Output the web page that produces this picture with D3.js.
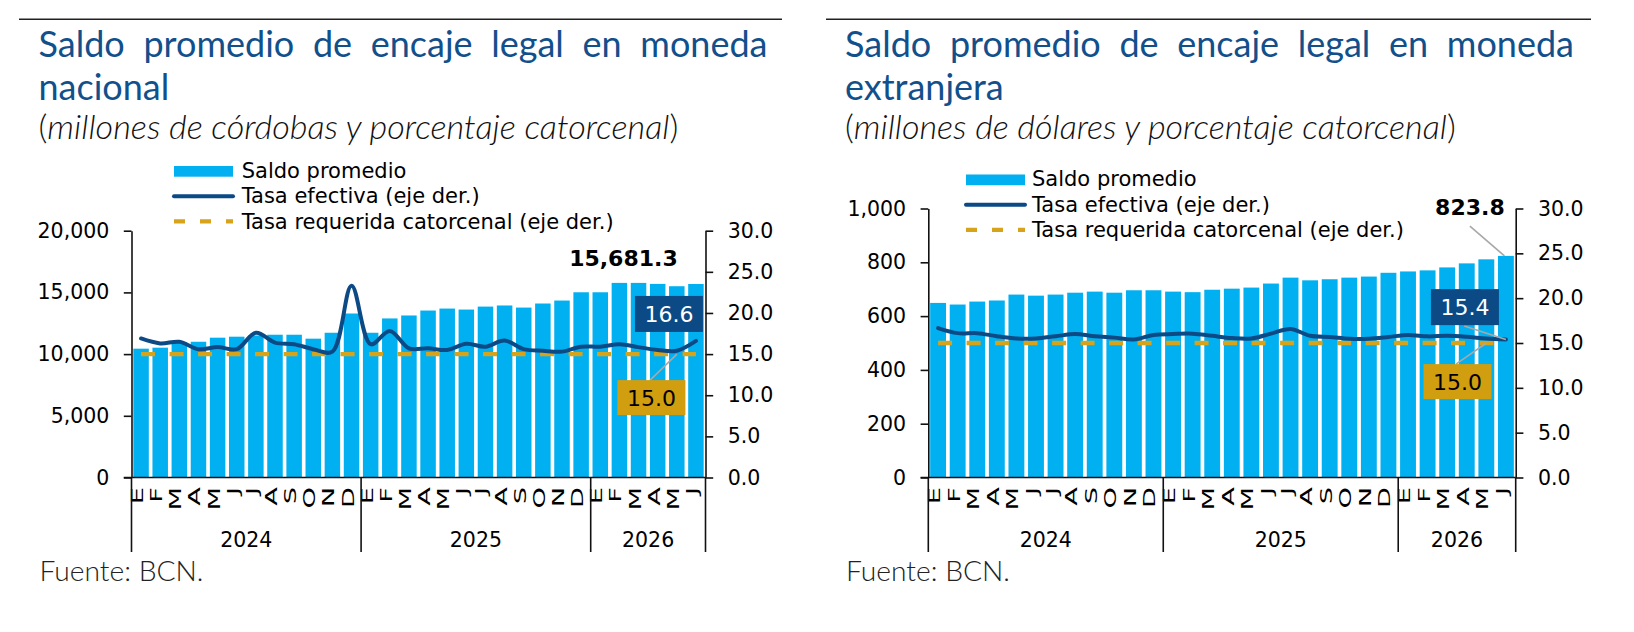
<!DOCTYPE html>
<html><head><meta charset="utf-8">
<script src="https://cdn.jsdelivr.net/npm/d3@7"></script>
<style>body{margin:0;background:#fff}svg{display:block}</style>
</head><body>
<svg id="c" width="1634" height="632"></svg>
<script>
// ---------- DATA ----------
const months = ["E","F","M","A","M","J","J","A","S","O","N","D",
                "E","F","M","A","M","J","J","A","S","O","N","D",
                "E","F","M","A","M","J"];
const yearLabels = ["2024","2025","2026"];
const yearCounts = [12,12,6];

const saldoMN = [10440,10520,10950,11000,11330,11410,11510,11570,11570,11250,11730,13290,
                 11730,12890,13130,13530,13690,13610,13850,13940,13770,14100,14340,15010,
                 15010,15770,15770,15690,15500,15681.3];
const tasaMN = [16.9,16.3,16.5,15.6,15.85,15.6,17.6,16.4,16.2,15.6,15.3,23.3,
                16.2,17.8,15.7,15.7,15.5,16.25,15.9,16.65,15.6,15.4,15.3,15.9,
                15.9,16.2,15.85,15.5,15.4,16.6];
const reqMN = [15,15,15,15,15,15,15,15,15,15,15,15,15,15,15,15,15,15,15,15,15,15,15,15,15,15,15,15,15,15];

const saldoME = [649,643,654,658,680,676,680,687,691,687,696,696,
                 691,689,698,702,706,721,743,733,737,743,747,761,
                 766,770,781,796,811,823.8];
const tasaME = [16.67,16.1,16.1,15.75,15.5,15.5,15.75,16.0,15.75,15.6,15.4,15.9,
                16.0,16.04,15.8,15.55,15.5,16.04,16.56,15.8,15.67,15.48,15.48,15.67,
                15.9,15.74,15.8,15.69,15.5,15.4];
const reqME = [15,15,15,15,15,15,15,15,15,15,15,15,15,15,15,15,15,15,15,15,15,15,15,15,15,15,15,15,15,15];

const ticksMN = [0,5000,10000,15000,20000];
const ticksME = [0,200,400,600,800,1000];
const ticksRate = [0,5,10,15,20,25,30];

const legendLabels = ["Saldo promedio","Tasa efectiva (eje der.)","Tasa requerida catorcenal (eje der.)"];

// ---------- STYLE ----------
const C_BAR = "#00B0F0", C_LINE = "#0C4A86", C_GOLD = "#D6A31A", C_GOLDBOX = "#D19E10",
      C_TITLE = "#12508C", C_GRAY = "#A8A8A8";
const F_CHART = "'DejaVu Sans', Verdana, sans-serif";
const F_TITLE = "Lato, 'Noto Sans', sans-serif";

const svg = d3.select("#c");

function justify(g, words, x0, width, y, size) {
  const nodes = words.map(w => g.append("text").attr("y", y).attr("font-family", F_TITLE)
      .attr("font-size", size).attr("fill", C_TITLE).text(w));
  const ws = nodes.map(n => n.node().getComputedTextLength());
  const gap = (width - d3.sum(ws)) / (words.length - 1);
  let x = x0;
  nodes.forEach((n, i) => { n.attr("x", x); x += ws[i] + gap; });
}

function fitWidth(t, base, width) {
  const w = t.node().getComputedTextLength();
  t.attr("font-size", base * width / w);
}

function subtitle(g, inner, x0, width, y) {
  const t = g.append("text").attr("x", x0).attr("y", y).attr("font-family", F_TITLE)
    .attr("font-size", 26).attr("font-weight", 300).attr("fill", "#111");
  t.append("tspan").text("(");
  t.append("tspan").attr("font-style", "italic").text(inner);
  t.append("tspan").text(")");
  fitWidth(t, 26, width);
}

function panel(cfg) {
  const g = svg.append("g");
  // top rule
  g.append("line").attr("x1", cfg.rule[0]).attr("x2", cfg.rule[1]).attr("y1", 19.3).attr("y2", 19.3)
    .attr("stroke", "#222").attr("stroke-width", 1.6);
  // titles
  justify(g, cfg.title1.split(" "), cfg.tx, 729, 57, 36);
  g.append("text").attr("x", cfg.tx).attr("y", 100).attr("font-family", F_TITLE).attr("font-size", 36)
    .attr("fill", C_TITLE).text(cfg.title2);
  subtitle(g, cfg.sub, cfg.tx, cfg.subW, 139);
  const f = g.append("text").attr("x", cfg.tx + 1).attr("y", 581).attr("font-family", F_TITLE).attr("font-size", 24)
    .attr("font-weight", 300).attr("fill", "#222").text("Fuente: BCN.");
  fitWidth(f, 24, 164);

  const x = d3.scaleBand().domain(d3.range(months.length)).range([cfg.L, cfg.R])
    .paddingInner(0.19).paddingOuter(0.095);
  const yL = d3.scaleLinear().domain(cfg.domL).range([477.5, cfg.top]);
  const yR = d3.scaleLinear().domain([0, 30]).range([477.5, cfg.top]);
  const cx = i => x(i) + x.bandwidth() / 2;

  // bars
  g.append("g").selectAll("rect").data(cfg.saldo).join("rect")
    .attr("x", (d, i) => x(i)).attr("width", x.bandwidth())
    .attr("y", d => yL(d)).attr("height", d => yL(0) - yL(d)).attr("fill", C_BAR);

  // required rate (dashed)
  g.append("path").datum(cfg.req)
    .attr("d", d3.line().x((d, i) => cx(i)).y(d => yR(d)))
    .attr("fill", "none").attr("stroke", C_GOLD).attr("stroke-width", 4.3)
    .attr("stroke-dasharray", "14,14.5");
  // effective rate
  g.append("path").datum(cfg.tasa)
    .attr("d", d3.line().x((d, i) => cx(i)).y(d => yR(d)).curve(d3.curveCatmullRom.alpha(0.5)))
    .attr("fill", "none").attr("stroke", C_LINE).attr("stroke-width", 4)
    .attr("stroke-linecap", "round");

  // axes
  const styleAxis = a => {
    a.selectAll("path.domain").attr("stroke", "#111").attr("stroke-width", 1.6);
    a.selectAll(".tick line").attr("stroke", "#111").attr("stroke-width", 1.6);
    a.selectAll(".tick text").attr("font-family", F_CHART).attr("font-size", 20.5).attr("fill", "#000");
  };
  g.append("g").attr("transform", `translate(${cfg.L},0)`)
    .call(d3.axisLeft(yL).tickValues(cfg.ticksL).tickFormat(d3.format(",")).tickSize(7.7).tickSizeOuter(0).tickPadding(14.5))
    .call(styleAxis);
  g.append("g").attr("transform", `translate(${cfg.R},0)`)
    .call(d3.axisRight(yR).tickValues(ticksRate).tickFormat(d3.format(".1f")).tickSize(7.7).tickSizeOuter(0).tickPadding(14.5))
    .call(styleAxis);
  // x baseline
  g.append("line").attr("x1", cfg.L - 7.7).attr("x2", cfg.R).attr("y1", yL(0)).attr("y2", yL(0))
    .attr("stroke", "#111").attr("stroke-width", 1.6);

  // month labels
  g.append("g").selectAll("text").data(months).join("text")
    .attr("transform", (d, i) => `translate(${cx(i) + 2},487) rotate(-90) scale(1.65,1)`)
    .attr("text-anchor", "end").attr("font-family", F_CHART).attr("font-size", 16.5).attr("fill", "#000")
    .text(d => d);
  // year separators + labels
  const step = x.step();
  const bx = k => cfg.L + k * step;
  const bounds = [0].concat(Array.from(d3.cumsum(yearCounts)));
  bounds.forEach(k => {
    g.append("line").attr("x1", bx(k)).attr("x2", bx(k)).attr("y1", yL(0)).attr("y2", 552)
      .attr("stroke", "#111").attr("stroke-width", 1.6);
  });
  yearLabels.forEach((lab, j) => {
    g.append("text").attr("x", (bx(bounds[j]) + bx(bounds[j + 1])) / 2).attr("y", 547).attr("text-anchor", "middle")
      .attr("font-family", F_CHART).attr("font-size", 20.5).attr("fill", "#000").text(lab);
  });

  // legend
  const lg = g.append("g").attr("transform", `translate(${cfg.legX},${cfg.legY})`);
  lg.append("rect").attr("x", 0).attr("y", -5.3).attr("width", 59).attr("height", 10.7).attr("fill", C_BAR);
  lg.append("line").attr("x1", 0).attr("x2", 59).attr("y1", 25).attr("y2", 25)
    .attr("stroke", C_LINE).attr("stroke-width", 4).attr("stroke-linecap", "round");
  lg.append("line").attr("x1", 0).attr("x2", 59).attr("y1", 50).attr("y2", 50)
    .attr("stroke", C_GOLD).attr("stroke-width", 4.3).attr("stroke-dasharray", "11,15");
  legendLabels.forEach((t, i) => {
    lg.append("text").attr("x", cfg.legTX).attr("y", 6.3 + i * 25.5).attr("font-family", F_CHART)
      .attr("font-size", 21).attr("fill", "#000").text(t);
  });

  // annotations
  const n = months.length - 1;
  const ax = cx(n);
  const lastS = cfg.saldo[n], lastT = cfg.tasa[n], lastR = cfg.req[n];
  const o = cfg.ann;
  if (o.sConn) {
    g.append("line").attr("x1", ax + o.sConn[0]).attr("y1", yL(lastS) + o.sConn[1])
      .attr("x2", ax - 1.5).attr("y2", yL(lastS)).attr("stroke", C_GRAY).attr("stroke-width", 1.6);
  }
  g.append("text").attr("x", ax + o.s[0]).attr("y", yL(lastS) + o.s[1]).attr("text-anchor", "middle")
    .attr("font-family", F_CHART).attr("font-weight", "bold").attr("font-size", 22).attr("fill", "#000")
    .text(d3.format(",.1f")(lastS));
  // tasa box
  const tb = o.t;
  if (o.tConn) {
    g.append("line").attr("x1", ax + o.tConn[0]).attr("y1", yR(lastT) + o.tConn[1])
      .attr("x2", ax).attr("y2", yR(lastT)).attr("stroke", C_GRAY).attr("stroke-width", 1.6);
  }
  g.append("rect").attr("x", ax + tb[0]).attr("y", yR(lastT) + tb[1]).attr("width", 68).attr("height", 36)
    .attr("fill", C_LINE);
  g.append("text").attr("x", ax + tb[0] + 34).attr("y", yR(lastT) + tb[1] + 18).attr("dy", "0.36em")
    .attr("text-anchor", "middle").attr("font-family", F_CHART).attr("font-size", 22).attr("fill", "#fff")
    .text(d3.format(".1f")(lastT));
  // required box
  const rb = o.r;
  g.append("line").attr("x1", ax + o.rConn[0]).attr("y1", yR(lastR) + o.rConn[1])
    .attr("x2", ax + o.rConn[2]).attr("y2", yR(lastR)).attr("stroke", C_GRAY).attr("stroke-width", 1.6);
  g.append("rect").attr("x", ax + rb[0]).attr("y", yR(lastR) + rb[1]).attr("width", 68).attr("height", 35)
    .attr("fill", C_GOLDBOX);
  g.append("text").attr("x", ax + rb[0] + 34).attr("y", yR(lastR) + rb[1] + 17.5).attr("dy", "0.36em")
    .attr("text-anchor", "middle").attr("font-family", F_CHART).attr("font-size", 22).attr("fill", "#000")
    .text(d3.format(".1f")(lastR));
}

panel({
  rule: [19, 782], tx: 38.5,
  title1: "Saldo promedio de encaje legal en moneda", title2: "nacional",
  sub: "millones de córdobas y porcentaje catorcenal", subW: 640,
  L: 131.5, R: 705.5, top: 230.7, domL: [0, 20000], ticksL: ticksMN,
  saldo: saldoMN, tasa: tasaMN, req: reqMN,
  legX: 174, legY: 171.3, legTX: 67.7,
  ann: { s: [-72.5, -17.5], t: [-61, -45], r: [-78.5, 26], rConn: [-45.8, 26, -19] }
});
panel({
  rule: [826, 1591], tx: 845,
  title1: "Saldo promedio de encaje legal en moneda", title2: "extranjera",
  sub: "millones de dólares y porcentaje catorcenal", subW: 611,
  L: 928.3, R: 1515.7, top: 208.5, domL: [0, 1000], ticksL: ticksME,
  saldo: saldoME, tasa: tasaME, req: reqME,
  legX: 966, legY: 179.8, legTX: 66,
  ann: { s: [-36, -40.5], sConn: [-36, -29.8], t: [-75, -50.3], tConn: [-41.7, -13.4],
         r: [-82.4, 21.1], rConn: [-50, 21.1, -19.4] }
});
</script>
</body></html>
